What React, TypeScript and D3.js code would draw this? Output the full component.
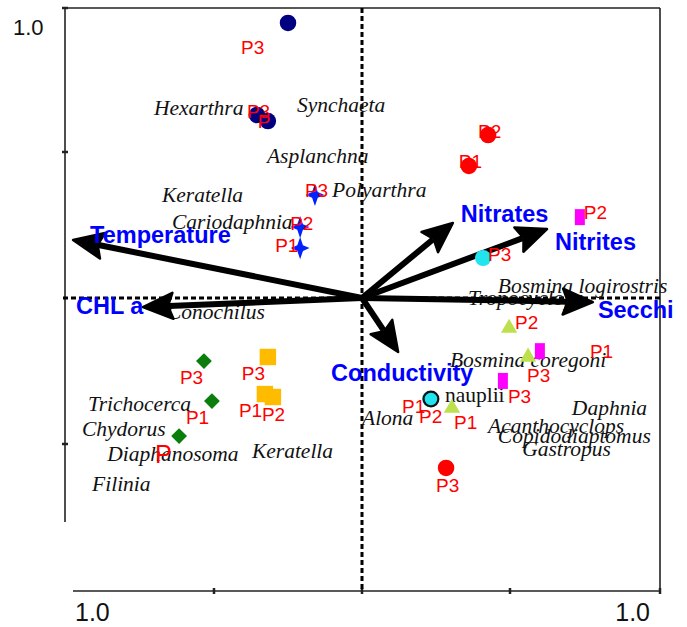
import { useEffect, useRef } from "react";
import * as d3 from "d3";

const W = 687;
const H = 627;

// environmental variables (arrow tips, ordination units)
const envNames = ["Temperature", "CHL a", "Nitrates", "Nitrites", "Secchi", "Conductivity"];
const envX = [-0.976, -0.74, 0.307, 0.625, 0.78, 0.122];
const envY = [0.199, -0.031, 0.257, 0.236, -0.014, -0.185];

// species scores (label anchors)
const speciesNames = [
  "Hexarthra", "Synchaeta", "Asplanchna", "Keratella", "Polyarthra", "Cariodaphnia",
  "Conochilus", "Bosmina logirostris", "Tropocyclops", "Bosmina coregoni", "nauplii",
  "Alona", "Daphnia", "Acanthocyclops", "Copidodiaptomus", "Gastropus", "Trichocerca",
  "Chydorus", "Diaphanosoma", "Keratella", "Filinia",
];
const speciesX = [
  -0.703, -0.22, -0.321, -0.676, -0.101, -0.642, -0.659, 0.459, 0.358, 0.297, 0.28,
  0.0, 0.709, 0.426, 0.459, 0.541, -0.926, -0.946, -0.861, -0.372, -0.912,
];
const speciesY = [
  0.627, 0.637, 0.462, 0.329, 0.346, 0.236, -0.072, 0.017, -0.024, -0.236, -0.356,
  -0.435, -0.401, -0.462, -0.497, -0.541, -0.387, -0.473, -0.558, -0.548, -0.661,
];
const uprightSpecies = ["nauplii"];

// sampling sites
const siteGroup = [
  "navy", "navy", "navy",
  "star", "star", "star",
  "red", "red", "red",
  "magenta", "magenta", "magenta",
  "cyan", "cyan", "cyanRing",
  "tri", "tri", "tri",
  "orange", "orange", "orange",
  "green", "green", "green",
];
const siteX = [
  -0.25, -0.355, -0.318,
  -0.159, -0.209, -0.209,
  0.426, 0.361, 0.284,
  0.736, 0.601, 0.476,
  0.409, 0.23, 0.233,
  0.497, 0.561, 0.304,
  -0.318, -0.328, -0.301,
  -0.534, -0.507, -0.618,
];
const siteY = [
  0.942, 0.627, 0.606,
  0.353, 0.243, 0.171,
  0.558, 0.452, -0.582,
  0.277, -0.182, -0.284,
  0.137, -0.346, -0.346,
  -0.103, -0.202, -0.377,
  -0.202, -0.329, -0.339,
  -0.216, -0.353, -0.473,
];
const siteLabel = [
  "P3", "P3", "P",
  "P3", "P2", "P1",
  "P2", "P1", "P3",
  "P2", "P1", "P3",
  "P3", "P1", "P2",
  "P2", "P3", "P1",
  "P3", "P1", "P2",
  "P3", "P1", "P",
];

const xTicks = [-0.5, 0, 0.5, 1];
const yTicks = [1, 0.5, -0.5];

// label placement (px, relative to the mark)
const envLabelDx = [17, -67, 8, 8, 5, -67];
const envLabelDy = [3, 7, -1, 21, 16, 29];
const siteDx = [-47, -10, -10, -10, -10, -25, -10, -10, -10, 4, 50, 5, 5, -28, -12, 6, -1, 2, -26, -26, -11, -24, -26, -24];
const siteDy = [31, 3, 7, 2, 3, 4, 3, 2, 24, 2, 7, 22, 3, 14, 24, 1, 25, 21, 23, 23, 24, 23, 23, 27];

const star4 = {
  draw(ctx: any, size: number) {
    const r = Math.sqrt(size) * 0.62;
    const ri = r * 0.36;
    for (let i = 0; i < 8; i++) {
      const a = (i * Math.PI) / 4 - Math.PI / 2;
      const rr = i % 2 === 0 ? r : ri;
      const px = Math.cos(a) * rr * (i % 4 === 2 ? 0.85 : 1);
      const py = Math.sin(a) * rr;
      if (i === 0) ctx.moveTo(px, py);
      else ctx.lineTo(px, py);
    }
    ctx.closePath();
  },
};

const tallRect = {
  draw(ctx: any, size: number) {
    const w = Math.sqrt(size) * 0.62;
    const h = w * 1.6;
    ctx.rect(-w / 2, -h / 2, w, h);
  },
};

const groupStyle: Record<string, { type: any; size: number; fill: string; rotate?: number; stroke?: string }> = {
  navy: { type: d3.symbolCircle, size: 215, fill: "#000080" },
  star: { type: star4, size: 320, fill: "#0022ff" },
  red: { type: d3.symbolCircle, size: 215, fill: "#ff0000" },
  magenta: { type: tallRect, size: 260, fill: "#ff00ff" },
  cyan: { type: d3.symbolCircle, size: 205, fill: "#22e4ef" },
  cyanRing: { type: d3.symbolCircle, size: 170, fill: "#22e4ef", stroke: "#111" },
  tri: { type: d3.symbolTriangle, size: 115, fill: "#bde04f" },
  orange: { type: d3.symbolSquare, size: 270, fill: "#ffbb00" },
  green: { type: d3.symbolSquare, size: 125, fill: "#0a7d0a", rotate: 45 },
};

const App = () => {
  const svgRef = useRef<SVGSVGElement | null>(null);

  useEffect(() => {
    if (!svgRef.current) return;
    const svg = d3.select(svgRef.current);
    svg.selectAll("*").remove();

    const x = d3.scaleLinear().domain([-1, 1]).range([66, 658]);
    const y = d3.scaleLinear().domain([-1, 1]).range([590, 6]);

    const frame = svg.append("g").attr("stroke", "#222").attr("stroke-width", 1.6);
    const left = x(-1) - 1;
    const top = y(1) + 2;
    const right = x(1) + 2;
    const bottom = y(-1) + 1;
    frame.append("line").attr("x1", left).attr("x2", left).attr("y1", top).attr("y2", 522);
    frame.append("line").attr("x1", left).attr("x2", right).attr("y1", top).attr("y2", top);
    frame.append("line").attr("x1", right).attr("x2", right).attr("y1", top).attr("y2", bottom);
    frame.append("line").attr("x1", 73).attr("x2", right).attr("y1", bottom).attr("y2", bottom);

    frame
      .selectAll(".yt")
      .data(yTicks)
      .join("line")
      .attr("x1", left - 3)
      .attr("x2", left + 3)
      .attr("y1", (d) => (d === 1 ? top : y(d)))
      .attr("y2", (d) => (d === 1 ? top : y(d)))
      .attr("stroke-width", 2.5);
    frame
      .selectAll(".xt")
      .data(xTicks)
      .join("line")
      .attr("x1", (d) => (d === 1 ? right : x(d)))
      .attr("x2", (d) => (d === 1 ? right : x(d)))
      .attr("y1", bottom - 3)
      .attr("y2", bottom + 3)
      .attr("stroke-width", 2.5);

    const tickFont = "Liberation Sans, Arial, sans-serif";
    svg.append("text").attr("x", 13).attr("y", 35).attr("font-family", tickFont).attr("font-size", 22).attr("fill", "#111").text("1.0");
    svg.append("text").attr("x", 75).attr("y", 621).attr("font-family", tickFont).attr("font-size", 25).attr("fill", "#111").text("1.0");
    svg.append("text").attr("x", 650).attr("y", 621).attr("text-anchor", "end").attr("font-family", tickFont).attr("font-size", 25).attr("fill", "#111").text("1.0");

    // dashed zero lines
    svg
      .append("line")
      .attr("x1", x(0))
      .attr("x2", x(0))
      .attr("y1", top)
      .attr("y2", bottom)
      .attr("stroke", "#000")
      .attr("stroke-width", 3)
      .attr("stroke-dasharray", "5,3");
    svg
      .append("line")
      .attr("x1", left - 2)
      .attr("x2", right)
      .attr("y1", y(0))
      .attr("y2", y(0))
      .attr("stroke", "#000")
      .attr("stroke-width", 3)
      .attr("stroke-dasharray", "5,3");

    // species names
    svg
      .append("g")
      .selectAll("text")
      .data(speciesNames)
      .join("text")
      .attr("x", (_, i) => x(speciesX[i]))
      .attr("y", (_, i) => y(speciesY[i]))
      .attr("font-family", "Liberation Serif, Times New Roman, serif")
      .attr("font-style", (d) => (uprightSpecies.includes(d) ? "normal" : "italic"))
      .attr("font-size", 21.5)
      .attr("fill", "#111")
      .text((d) => d);

    // environmental arrows
    const ox = x(0);
    const oy = y(0);
    const arrows = svg.append("g");
    envNames.forEach((_, i) => {
      const tx = x(envX[i]);
      const ty = y(envY[i]);
      const dx = tx - ox;
      const dy = ty - oy;
      const len = Math.hypot(dx, dy);
      const ux = dx / len;
      const uy = dy / len;
      const hl = 30;
      const hw = 13;
      const bx = tx - ux * hl;
      const by = ty - uy * hl;
      arrows
        .append("line")
        .attr("x1", ox)
        .attr("y1", oy)
        .attr("x2", bx + ux * 4)
        .attr("y2", by + uy * 4)
        .attr("stroke", "#000")
        .attr("stroke-width", 6);
      const p = d3.path();
      p.moveTo(tx, ty);
      p.lineTo(bx - uy * hw, by + ux * hw);
      p.lineTo(bx + ux * 5, by + uy * 5);
      p.lineTo(bx + uy * hw, by - ux * hw);
      p.closePath();
      arrows
        .append("path")
        .attr("d", p.toString())
        .attr("fill", "#000")
        .attr("stroke", "#000")
        .attr("stroke-width", 2.5)
        .attr("stroke-linejoin", "round");
    });

    // sites
    const sites = svg.append("g");
    siteGroup.forEach((g, i) => {
      const st = groupStyle[g];
      sites
        .append("path")
        .attr("d", d3.symbol().type(st.type).size(st.size)()!)
        .attr(
          "transform",
          `translate(${x(siteX[i])},${y(siteY[i])})${st.rotate ? ` rotate(${st.rotate})` : ""}`
        )
        .attr("fill", st.fill)
        .attr("stroke", st.stroke ?? "none")
        .attr("stroke-width", st.stroke ? 2.2 : 0);
    });

    svg
      .append("g")
      .selectAll("text")
      .data(siteLabel)
      .join("text")
      .attr("x", (_, i) => x(siteX[i]) + siteDx[i])
      .attr("y", (_, i) => y(siteY[i]) + siteDy[i])
      .attr("font-family", tickFont)
      .attr("font-size", (d, i) => (i === siteLabel.length - 1 ? 25 : 19))
      .attr("fill", "#ff0000")
      .text((d) => d);

    // env labels
    svg
      .append("g")
      .selectAll("text")
      .data(envNames)
      .join("text")
      .attr("x", (_, i) => x(envX[i]) + envLabelDx[i])
      .attr("y", (_, i) => y(envY[i]) + envLabelDy[i])
      .attr("font-family", tickFont)
      .attr("font-weight", "bold")
      .attr("font-size", 23.5)
      .attr("fill", "#0000ff")
      .text((d) => d);
  }, []);

  return (
    <svg
      ref={svgRef}
      width={W}
      height={H}
      style={{ position: "absolute", left: 0, top: 0, background: "#fff" }}
    />
  );
};

export default App;
